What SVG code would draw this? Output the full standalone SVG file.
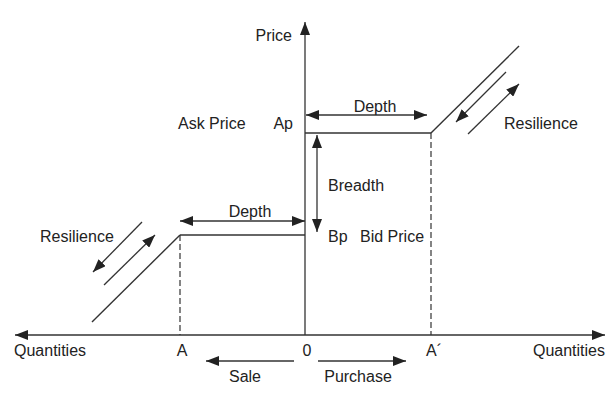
<svg xmlns="http://www.w3.org/2000/svg" width="611" height="395" viewBox="0 0 611 395">
  <style>
    text { font-family: "Liberation Sans", Arial, sans-serif; font-size: 16px; fill: #222; }
    .ax { stroke: #222; stroke-width: 1.4; fill: none; }
    .ln { stroke: #333; stroke-width: 1.4; fill: none; }
    .dash { stroke: #333; stroke-width: 1.2; fill: none; stroke-dasharray: 6 3; }
    .arr { stroke: #333; stroke-width: 1.3; fill: none; marker-end: url(#head); }
    .arr2 { stroke: #333; stroke-width: 1.3; fill: none; marker-start: url(#headS); marker-end: url(#head); }
  </style>
  <defs>
    <marker id="head" viewBox="0 0 13 10" refX="13" refY="5" markerWidth="13" markerHeight="10" markerUnits="userSpaceOnUse" orient="auto">
      <path d="M0,0 L13,5 L0,10 Z" fill="#222"/>
    </marker>
    <marker id="headS" viewBox="0 0 13 10" refX="0" refY="5" markerWidth="13" markerHeight="10" markerUnits="userSpaceOnUse" orient="auto">
      <path d="M13,0 L0,5 L13,10 Z" fill="#222"/>
    </marker>
  </defs>

  <!-- axes -->
  <g id="axes">
    <line class="arr2" x1="15" y1="335" x2="605" y2="335"/>
    <line class="arr" x1="305" y1="335" x2="305" y2="22"/>
  </g>

  <!-- supply/demand curve -->
  <g id="curve">
    <line class="ln" x1="92" y1="322" x2="180" y2="235"/>
    <line class="ln" x1="180" y1="235" x2="305" y2="235"/>
    <line class="ln" x1="305" y1="133" x2="431" y2="133"/>
    <line class="ln" x1="431" y1="133" x2="519" y2="46"/>
    <line class="dash" x1="180" y1="235" x2="180" y2="335"/>
    <line class="dash" x1="431" y1="133" x2="431" y2="335"/>
  </g>

  <!-- measures -->
  <g id="connectors">
    <line class="arr2" x1="306" y1="115" x2="427" y2="115"/>
    <line class="arr2" x1="180" y1="221" x2="305" y2="221"/>
    <line class="arr2" x1="317" y1="135" x2="317" y2="232"/>
    <line class="arr" x1="506" y1="72" x2="456" y2="122"/>
    <line class="arr" x1="468" y1="134" x2="519" y2="84"/>
    <line class="arr" x1="142" y1="222" x2="93" y2="272"/>
    <line class="arr" x1="104" y1="285" x2="155" y2="235"/>
    <line class="arr" x1="294" y1="361" x2="206" y2="361"/>
    <line class="arr" x1="318" y1="361" x2="406" y2="361"/>
  </g>

  <!-- labels -->
  <g id="labels">
    <text x="292" y="41" text-anchor="end">Price</text>
    <text x="178" y="129">Ask Price</text>
    <text x="293" y="129" text-anchor="end">Ap</text>
    <text x="375" y="112" text-anchor="middle">Depth</text>
    <text x="504" y="129">Resilience</text>
    <text x="328" y="191">Breadth</text>
    <text x="328" y="242">Bp</text>
    <text x="360" y="242">Bid Price</text>
    <text x="250" y="217" text-anchor="middle">Depth</text>
    <text x="40" y="242">Resilience</text>
    <text x="14" y="356">Quantities</text>
    <text x="182" y="356" text-anchor="middle">A</text>
    <text x="307" y="356" text-anchor="middle">0</text>
    <text x="434" y="356" text-anchor="middle">A´</text>
    <text x="605" y="356" text-anchor="end">Quantities</text>
    <text x="245" y="382" text-anchor="middle">Sale</text>
    <text x="358" y="382" text-anchor="middle">Purchase</text>
  </g>
</svg>
